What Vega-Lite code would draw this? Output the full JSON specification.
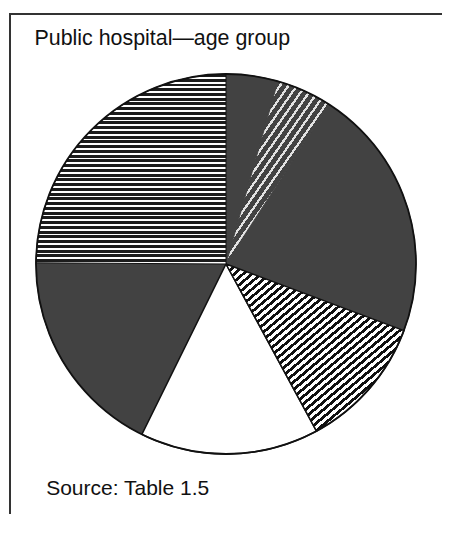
{
  "$schema": "https://vega.github.io/schema/vega-lite/v6.json",
  "width": 432,
  "height": 500,
  "autosize": "none",
  "padding": {"left": 10, "top": 14, "right": 0, "bottom": 0},
  "background": "white",
  "view": {"stroke": "#333333", "strokeWidth": 2, "strokeDash": [432, 932, 500]},
  "title": {
    "text": "Public hospital—age group",
    "subtitle": "\u200b\u00a0\u00a0Source: Table 1.5",
    "anchor": "start",
    "frame": "group",
    "orient": "top",
    "offset": 0,
    "dx": 24.5,
    "dy": 485,
    "font": "Liberation Sans",
    "fontSize": 21.4,
    "fontWeight": "normal",
    "color": "#111111",
    "subtitleFont": "Liberation Sans",
    "subtitleFontSize": 21,
    "subtitleFontWeight": "normal",
    "subtitleColor": "#111111",
    "subtitlePadding": 429
  },
  "data": {
    "values": [
      {"age_group": "Group 1", "order": 1, "share": 4.4, "pattern": "dark"},
      {"age_group": "Group 2", "order": 2, "share": 4.7, "pattern": "dots"},
      {"age_group": "Group 3", "order": 3, "share": 21.6, "pattern": "dark"},
      {"age_group": "Group 4", "order": 4, "share": 11.4, "pattern": "diagonal"},
      {"age_group": "Group 5", "order": 5, "share": 15.2, "pattern": "white"},
      {"age_group": "Group 6", "order": 6, "share": 17.8, "pattern": "dark"},
      {"age_group": "Group 7", "order": 7, "share": 24.9, "pattern": "horizontal"}
    ]
  },
  "transform": [
    {"stack": "share", "groupby": [], "sort": [{"field": "order", "order": "ascending"}], "as": ["start", "end"]}
  ],
  "layer": [
    {
      "transform": [{"filter": "datum.pattern === 'dark'"}],
      "mark": {"type": "arc", "radius": 190, "fill": "#424242", "stroke": "#424242", "strokeWidth": 1},
      "encoding": {
        "theta": {"field": "start", "type": "quantitative", "scale": {"domain": [0, 100]}},
        "theta2": {"field": "end"}
      }
    },
    {
      "transform": [{"filter": "datum.pattern === 'dots'"}],
      "mark": {"type": "arc", "radius": 190, "stroke": "#424242", "strokeWidth": 1,
        "fill": {"gradient": "linear", "x1": 0, "y1": 0, "x2": 0.8055, "y2": 1, "stops": [
          {"offset": 0, "color": "#424242"}, {"offset": 0.265, "color": "#424242"}, {"offset": 0.265, "color": "#e2e2e2"}, {"offset": 0.278, "color": "#e2e2e2"},
          {"offset": 0.278, "color": "#424242"}, {"offset": 0.305, "color": "#424242"}, {"offset": 0.305, "color": "#e2e2e2"}, {"offset": 0.318, "color": "#e2e2e2"},
          {"offset": 0.318, "color": "#424242"}, {"offset": 0.345, "color": "#424242"}, {"offset": 0.345, "color": "#e2e2e2"}, {"offset": 0.358, "color": "#e2e2e2"},
          {"offset": 0.358, "color": "#424242"}, {"offset": 0.385, "color": "#424242"}, {"offset": 0.385, "color": "#e2e2e2"}, {"offset": 0.398, "color": "#e2e2e2"},
          {"offset": 0.398, "color": "#424242"}, {"offset": 0.425, "color": "#424242"}, {"offset": 0.425, "color": "#e2e2e2"}, {"offset": 0.438, "color": "#e2e2e2"},
          {"offset": 0.438, "color": "#424242"}, {"offset": 0.465, "color": "#424242"}, {"offset": 0.465, "color": "#e2e2e2"}, {"offset": 0.478, "color": "#e2e2e2"},
          {"offset": 0.478, "color": "#424242"}, {"offset": 0.505, "color": "#424242"}, {"offset": 0.505, "color": "#e2e2e2"}, {"offset": 0.518, "color": "#e2e2e2"},
          {"offset": 0.518, "color": "#424242"}, {"offset": 0.545, "color": "#424242"}, {"offset": 0.545, "color": "#e2e2e2"}, {"offset": 0.558, "color": "#e2e2e2"},
          {"offset": 0.558, "color": "#424242"}, {"offset": 0.585, "color": "#424242"}, {"offset": 0.585, "color": "#e2e2e2"}, {"offset": 0.598, "color": "#e2e2e2"},
          {"offset": 0.598, "color": "#424242"}, {"offset": 1, "color": "#424242"}
        ]}},
      "encoding": {
        "theta": {"field": "start", "type": "quantitative", "scale": {"domain": [0, 100]}},
        "theta2": {"field": "end"}
      }
    },
    {
      "transform": [{"filter": "datum.pattern === 'white'"}],
      "mark": {"type": "arc", "radius": 190, "fill": "#ffffff", "stroke": "#111111", "strokeWidth": 1.5},
      "encoding": {
        "theta": {"field": "start", "type": "quantitative", "scale": {"domain": [0, 100]}},
        "theta2": {"field": "end"}
      }
    },
    {
      "transform": [{"filter": "datum.pattern === 'diagonal'"}],
      "mark": {"type": "arc", "radius": 190, "stroke": "#111111", "strokeWidth": 1.5,
        "fill": {"gradient": "linear", "x1": 0, "y1": 0, "x2": 0.895, "y2": 1, "stops": [
          {"offset": 0, "color": "#111"}, {"offset": 0.012, "color": "#111"}, {"offset": 0.012, "color": "#fff"}, {"offset": 0.025, "color": "#fff"},
          {"offset": 0.025, "color": "#111"}, {"offset": 0.037, "color": "#111"}, {"offset": 0.037, "color": "#fff"}, {"offset": 0.05, "color": "#fff"},
          {"offset": 0.05, "color": "#111"}, {"offset": 0.062, "color": "#111"}, {"offset": 0.062, "color": "#fff"}, {"offset": 0.075, "color": "#fff"},
          {"offset": 0.075, "color": "#111"}, {"offset": 0.087, "color": "#111"}, {"offset": 0.087, "color": "#fff"}, {"offset": 0.1, "color": "#fff"},
          {"offset": 0.1, "color": "#111"}, {"offset": 0.112, "color": "#111"}, {"offset": 0.112, "color": "#fff"}, {"offset": 0.125, "color": "#fff"},
          {"offset": 0.125, "color": "#111"}, {"offset": 0.137, "color": "#111"}, {"offset": 0.137, "color": "#fff"}, {"offset": 0.15, "color": "#fff"},
          {"offset": 0.15, "color": "#111"}, {"offset": 0.162, "color": "#111"}, {"offset": 0.162, "color": "#fff"}, {"offset": 0.175, "color": "#fff"},
          {"offset": 0.175, "color": "#111"}, {"offset": 0.187, "color": "#111"}, {"offset": 0.187, "color": "#fff"}, {"offset": 0.2, "color": "#fff"},
          {"offset": 0.2, "color": "#111"}, {"offset": 0.212, "color": "#111"}, {"offset": 0.212, "color": "#fff"}, {"offset": 0.225, "color": "#fff"},
          {"offset": 0.225, "color": "#111"}, {"offset": 0.237, "color": "#111"}, {"offset": 0.237, "color": "#fff"}, {"offset": 0.25, "color": "#fff"},
          {"offset": 0.25, "color": "#111"}, {"offset": 0.262, "color": "#111"}, {"offset": 0.262, "color": "#fff"}, {"offset": 0.275, "color": "#fff"},
          {"offset": 0.275, "color": "#111"}, {"offset": 0.287, "color": "#111"}, {"offset": 0.287, "color": "#fff"}, {"offset": 0.3, "color": "#fff"},
          {"offset": 0.3, "color": "#111"}, {"offset": 0.312, "color": "#111"}, {"offset": 0.312, "color": "#fff"}, {"offset": 0.325, "color": "#fff"},
          {"offset": 0.325, "color": "#111"}, {"offset": 0.337, "color": "#111"}, {"offset": 0.337, "color": "#fff"}, {"offset": 0.35, "color": "#fff"},
          {"offset": 0.35, "color": "#111"}, {"offset": 0.362, "color": "#111"}, {"offset": 0.362, "color": "#fff"}, {"offset": 0.375, "color": "#fff"},
          {"offset": 0.375, "color": "#111"}, {"offset": 0.387, "color": "#111"}, {"offset": 0.387, "color": "#fff"}, {"offset": 0.4, "color": "#fff"},
          {"offset": 0.4, "color": "#111"}, {"offset": 0.412, "color": "#111"}, {"offset": 0.412, "color": "#fff"}, {"offset": 0.425, "color": "#fff"},
          {"offset": 0.425, "color": "#111"}, {"offset": 0.437, "color": "#111"}, {"offset": 0.437, "color": "#fff"}, {"offset": 0.45, "color": "#fff"},
          {"offset": 0.45, "color": "#111"}, {"offset": 0.462, "color": "#111"}, {"offset": 0.462, "color": "#fff"}, {"offset": 0.475, "color": "#fff"},
          {"offset": 0.475, "color": "#111"}, {"offset": 0.487, "color": "#111"}, {"offset": 0.487, "color": "#fff"}, {"offset": 0.5, "color": "#fff"},
          {"offset": 0.5, "color": "#111"}, {"offset": 0.512, "color": "#111"}, {"offset": 0.512, "color": "#fff"}, {"offset": 0.525, "color": "#fff"},
          {"offset": 0.525, "color": "#111"}, {"offset": 0.537, "color": "#111"}, {"offset": 0.537, "color": "#fff"}, {"offset": 0.55, "color": "#fff"},
          {"offset": 0.55, "color": "#111"}, {"offset": 0.562, "color": "#111"}, {"offset": 0.562, "color": "#fff"}, {"offset": 0.575, "color": "#fff"},
          {"offset": 0.575, "color": "#111"}, {"offset": 0.587, "color": "#111"}, {"offset": 0.587, "color": "#fff"}, {"offset": 0.6, "color": "#fff"},
          {"offset": 0.6, "color": "#111"}, {"offset": 0.612, "color": "#111"}, {"offset": 0.612, "color": "#fff"}, {"offset": 0.625, "color": "#fff"},
          {"offset": 0.625, "color": "#111"}, {"offset": 0.637, "color": "#111"}, {"offset": 0.637, "color": "#fff"}, {"offset": 0.65, "color": "#fff"},
          {"offset": 0.65, "color": "#111"}, {"offset": 0.662, "color": "#111"}, {"offset": 0.662, "color": "#fff"}, {"offset": 0.675, "color": "#fff"},
          {"offset": 0.675, "color": "#111"}, {"offset": 0.687, "color": "#111"}, {"offset": 0.687, "color": "#fff"}, {"offset": 0.7, "color": "#fff"},
          {"offset": 0.7, "color": "#111"}, {"offset": 0.712, "color": "#111"}, {"offset": 0.712, "color": "#fff"}, {"offset": 0.725, "color": "#fff"},
          {"offset": 0.725, "color": "#111"}, {"offset": 0.737, "color": "#111"}, {"offset": 0.737, "color": "#fff"}, {"offset": 0.75, "color": "#fff"},
          {"offset": 0.75, "color": "#111"}, {"offset": 0.762, "color": "#111"}, {"offset": 0.762, "color": "#fff"}, {"offset": 0.775, "color": "#fff"},
          {"offset": 0.775, "color": "#111"}, {"offset": 0.787, "color": "#111"}, {"offset": 0.787, "color": "#fff"}, {"offset": 0.8, "color": "#fff"},
          {"offset": 0.8, "color": "#111"}, {"offset": 0.812, "color": "#111"}, {"offset": 0.812, "color": "#fff"}, {"offset": 0.825, "color": "#fff"},
          {"offset": 0.825, "color": "#111"}, {"offset": 0.837, "color": "#111"}, {"offset": 0.837, "color": "#fff"}, {"offset": 0.85, "color": "#fff"},
          {"offset": 0.85, "color": "#111"}, {"offset": 0.862, "color": "#111"}, {"offset": 0.862, "color": "#fff"}, {"offset": 1, "color": "#fff"}
        ]}},
      "encoding": {
        "theta": {"field": "start", "type": "quantitative", "scale": {"domain": [0, 100]}},
        "theta2": {"field": "end"}
      }
    },
    {
      "transform": [{"filter": "datum.pattern === 'horizontal'"}],
      "mark": {"type": "arc", "radius": 190, "stroke": "#111111", "strokeWidth": 1,
        "fill": {"gradient": "linear", "x1": 0, "y1": 0, "x2": 0, "y2": 1, "stops": [
          {"offset": 0, "color": "#1c1c1c"}, {"offset": 0.015, "color": "#1c1c1c"}, {"offset": 0.015, "color": "#fff"}, {"offset": 0.025, "color": "#fff"},
          {"offset": 0.025, "color": "#1c1c1c"}, {"offset": 0.04, "color": "#1c1c1c"}, {"offset": 0.04, "color": "#fff"}, {"offset": 0.05, "color": "#fff"},
          {"offset": 0.05, "color": "#1c1c1c"}, {"offset": 0.065, "color": "#1c1c1c"}, {"offset": 0.065, "color": "#fff"}, {"offset": 0.075, "color": "#fff"},
          {"offset": 0.075, "color": "#1c1c1c"}, {"offset": 0.09, "color": "#1c1c1c"}, {"offset": 0.09, "color": "#fff"}, {"offset": 0.1, "color": "#fff"},
          {"offset": 0.1, "color": "#1c1c1c"}, {"offset": 0.115, "color": "#1c1c1c"}, {"offset": 0.115, "color": "#fff"}, {"offset": 0.125, "color": "#fff"},
          {"offset": 0.125, "color": "#1c1c1c"}, {"offset": 0.14, "color": "#1c1c1c"}, {"offset": 0.14, "color": "#fff"}, {"offset": 0.15, "color": "#fff"},
          {"offset": 0.15, "color": "#1c1c1c"}, {"offset": 0.165, "color": "#1c1c1c"}, {"offset": 0.165, "color": "#fff"}, {"offset": 0.175, "color": "#fff"},
          {"offset": 0.175, "color": "#1c1c1c"}, {"offset": 0.19, "color": "#1c1c1c"}, {"offset": 0.19, "color": "#fff"}, {"offset": 0.2, "color": "#fff"},
          {"offset": 0.2, "color": "#1c1c1c"}, {"offset": 0.215, "color": "#1c1c1c"}, {"offset": 0.215, "color": "#fff"}, {"offset": 0.225, "color": "#fff"},
          {"offset": 0.225, "color": "#1c1c1c"}, {"offset": 0.24, "color": "#1c1c1c"}, {"offset": 0.24, "color": "#fff"}, {"offset": 0.25, "color": "#fff"},
          {"offset": 0.25, "color": "#1c1c1c"}, {"offset": 0.265, "color": "#1c1c1c"}, {"offset": 0.265, "color": "#fff"}, {"offset": 0.275, "color": "#fff"},
          {"offset": 0.275, "color": "#1c1c1c"}, {"offset": 0.29, "color": "#1c1c1c"}, {"offset": 0.29, "color": "#fff"}, {"offset": 0.3, "color": "#fff"},
          {"offset": 0.3, "color": "#1c1c1c"}, {"offset": 0.315, "color": "#1c1c1c"}, {"offset": 0.315, "color": "#fff"}, {"offset": 0.325, "color": "#fff"},
          {"offset": 0.325, "color": "#1c1c1c"}, {"offset": 0.34, "color": "#1c1c1c"}, {"offset": 0.34, "color": "#fff"}, {"offset": 0.35, "color": "#fff"},
          {"offset": 0.35, "color": "#1c1c1c"}, {"offset": 0.365, "color": "#1c1c1c"}, {"offset": 0.365, "color": "#fff"}, {"offset": 0.375, "color": "#fff"},
          {"offset": 0.375, "color": "#1c1c1c"}, {"offset": 0.39, "color": "#1c1c1c"}, {"offset": 0.39, "color": "#fff"}, {"offset": 0.4, "color": "#fff"},
          {"offset": 0.4, "color": "#1c1c1c"}, {"offset": 0.415, "color": "#1c1c1c"}, {"offset": 0.415, "color": "#fff"}, {"offset": 0.425, "color": "#fff"},
          {"offset": 0.425, "color": "#1c1c1c"}, {"offset": 0.44, "color": "#1c1c1c"}, {"offset": 0.44, "color": "#fff"}, {"offset": 0.45, "color": "#fff"},
          {"offset": 0.45, "color": "#1c1c1c"}, {"offset": 0.465, "color": "#1c1c1c"}, {"offset": 0.465, "color": "#fff"}, {"offset": 0.475, "color": "#fff"},
          {"offset": 0.475, "color": "#1c1c1c"}, {"offset": 0.49, "color": "#1c1c1c"}, {"offset": 0.49, "color": "#fff"}, {"offset": 0.5, "color": "#fff"},
          {"offset": 0.5, "color": "#1c1c1c"}, {"offset": 0.515, "color": "#1c1c1c"}, {"offset": 0.515, "color": "#fff"}, {"offset": 0.525, "color": "#fff"},
          {"offset": 0.525, "color": "#1c1c1c"}, {"offset": 0.54, "color": "#1c1c1c"}, {"offset": 0.54, "color": "#fff"}, {"offset": 0.55, "color": "#fff"},
          {"offset": 0.55, "color": "#1c1c1c"}, {"offset": 0.565, "color": "#1c1c1c"}, {"offset": 0.565, "color": "#fff"}, {"offset": 0.575, "color": "#fff"},
          {"offset": 0.575, "color": "#1c1c1c"}, {"offset": 0.59, "color": "#1c1c1c"}, {"offset": 0.59, "color": "#fff"}, {"offset": 0.6, "color": "#fff"},
          {"offset": 0.6, "color": "#1c1c1c"}, {"offset": 0.615, "color": "#1c1c1c"}, {"offset": 0.615, "color": "#fff"}, {"offset": 0.625, "color": "#fff"},
          {"offset": 0.625, "color": "#1c1c1c"}, {"offset": 0.64, "color": "#1c1c1c"}, {"offset": 0.64, "color": "#fff"}, {"offset": 0.65, "color": "#fff"},
          {"offset": 0.65, "color": "#1c1c1c"}, {"offset": 0.665, "color": "#1c1c1c"}, {"offset": 0.665, "color": "#fff"}, {"offset": 0.675, "color": "#fff"},
          {"offset": 0.675, "color": "#1c1c1c"}, {"offset": 0.69, "color": "#1c1c1c"}, {"offset": 0.69, "color": "#fff"}, {"offset": 0.7, "color": "#fff"},
          {"offset": 0.7, "color": "#1c1c1c"}, {"offset": 0.715, "color": "#1c1c1c"}, {"offset": 0.715, "color": "#fff"}, {"offset": 0.725, "color": "#fff"},
          {"offset": 0.725, "color": "#1c1c1c"}, {"offset": 0.74, "color": "#1c1c1c"}, {"offset": 0.74, "color": "#fff"}, {"offset": 0.75, "color": "#fff"},
          {"offset": 0.75, "color": "#1c1c1c"}, {"offset": 0.765, "color": "#1c1c1c"}, {"offset": 0.765, "color": "#fff"}, {"offset": 0.775, "color": "#fff"},
          {"offset": 0.775, "color": "#1c1c1c"}, {"offset": 0.79, "color": "#1c1c1c"}, {"offset": 0.79, "color": "#fff"}, {"offset": 0.8, "color": "#fff"},
          {"offset": 0.8, "color": "#1c1c1c"}, {"offset": 0.815, "color": "#1c1c1c"}, {"offset": 0.815, "color": "#fff"}, {"offset": 0.825, "color": "#fff"},
          {"offset": 0.825, "color": "#1c1c1c"}, {"offset": 0.84, "color": "#1c1c1c"}, {"offset": 0.84, "color": "#fff"}, {"offset": 0.85, "color": "#fff"},
          {"offset": 0.85, "color": "#1c1c1c"}, {"offset": 0.865, "color": "#1c1c1c"}, {"offset": 0.865, "color": "#fff"}, {"offset": 0.875, "color": "#fff"},
          {"offset": 0.875, "color": "#1c1c1c"}, {"offset": 0.89, "color": "#1c1c1c"}, {"offset": 0.89, "color": "#fff"}, {"offset": 0.9, "color": "#fff"},
          {"offset": 0.9, "color": "#1c1c1c"}, {"offset": 0.915, "color": "#1c1c1c"}, {"offset": 0.915, "color": "#fff"}, {"offset": 0.925, "color": "#fff"},
          {"offset": 0.925, "color": "#1c1c1c"}, {"offset": 0.94, "color": "#1c1c1c"}, {"offset": 0.94, "color": "#fff"}, {"offset": 0.95, "color": "#fff"},
          {"offset": 0.95, "color": "#1c1c1c"}, {"offset": 0.965, "color": "#1c1c1c"}, {"offset": 0.965, "color": "#fff"}, {"offset": 0.975, "color": "#fff"},
          {"offset": 0.975, "color": "#1c1c1c"}, {"offset": 0.99, "color": "#1c1c1c"}, {"offset": 0.99, "color": "#fff"}, {"offset": 1, "color": "#fff"}
        ]}},
      "encoding": {
        "theta": {"field": "start", "type": "quantitative", "scale": {"domain": [0, 100]}},
        "theta2": {"field": "end"}
      }
    },
    {
      "transform": [{"aggregate": [{"op": "sum", "field": "share", "as": "total"}]}],
      "mark": {"type": "arc", "radius": 190, "filled": false, "stroke": "#111111", "strokeWidth": 1.8},
      "encoding": {
        "theta": {"field": "total", "type": "quantitative", "scale": {"domain": [0, 100]}}
      }
    }
  ]
}
